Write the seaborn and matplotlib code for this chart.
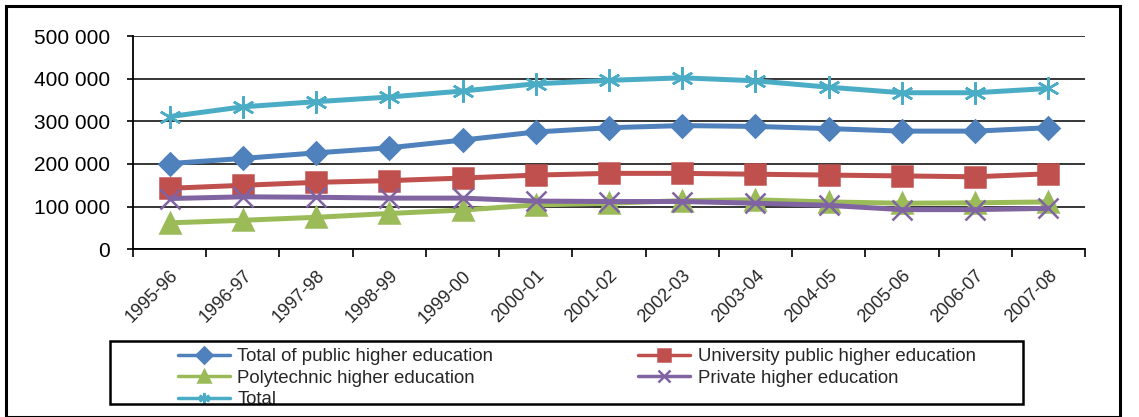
import seaborn as sns
import matplotlib.pyplot as plt
from matplotlib.patches import Rectangle
from matplotlib.ticker import FuncFormatter, FixedLocator

# ---- data ----
years = ["1995-96", "1996-97", "1997-98", "1998-99", "1999-00", "2000-01", "2001-02",
         "2002-03", "2003-04", "2004-05", "2005-06", "2006-07", "2007-08"]
public_total = [201000, 213000, 226000, 238000, 256000, 275000, 285000,
                290000, 288000, 283000, 277000, 277000, 285000]
university = [143000, 150000, 157000, 161000, 167000, 174000, 178000,
              178000, 176000, 174000, 172000, 170000, 177000]
polytechnic = [62000, 68000, 75000, 84000, 92000, 104000, 108000,
               114000, 116000, 111000, 108000, 109000, 111000]
private = [119000, 123000, 122000, 120000, 120000, 113000, 112000,
           112000, 108000, 103000, 93000, 93000, 96000]
total = [311000, 334000, 346000, 357000, 371000, 388000, 396000,
         402000, 395000, 380000, 367000, 367000, 377000]

series = [
    ("Total of public higher education", public_total, "#4F81BD", "D", 11),
    ("University public higher education", university, "#C0504D", "s", 14),
    ("Polytechnic higher education", polytechnic, "#9BBB59", "^", 15),
    ("Private higher education", private, "#8064A2", "x", 14),
    ("Total", total, "#4BACC6", (6, 2, 0), 16),
]

sns.set_style("white")
plt.rcParams["font.family"] = ["Liberation Sans", "DejaVu Sans"]

W, H = 1139, 417
fig = plt.figure(figsize=(W / 100, H / 100), dpi=100)
ax = fig.add_axes([133 / W, 1 - 249.3 / H, (1085 - 133) / W, (249.3 - 36) / H])

handles = {}
for name, vals, col, mk, ms in series:
    sns.lineplot(x=years, y=vals, ax=ax, color=col, linewidth=3.6, marker=mk,
                 markersize=ms, markeredgecolor=col, markeredgewidth=1.8,
                 sort=False, label=name, zorder=3)
    handles[name] = ax.lines[-1]
if ax.get_legend():
    ax.get_legend().remove()

ax.set_ylim(0, 500000)
ax.set_xlim(-0.5, len(years) - 0.5)
ax.set_yticks(range(0, 500001, 100000))
ax.yaxis.set_major_formatter(FuncFormatter(lambda v, p: f"{int(v):,}".replace(",", " ")))
ax.grid(axis="y", color="black", linewidth=1.1)
ax.set_axisbelow(True)
for s in ["top", "right"]:
    ax.spines[s].set_visible(False)
for s in ["left", "bottom"]:
    ax.spines[s].set_color("black")
    ax.spines[s].set_linewidth(1.3)
ax.tick_params(axis="y", left=True, length=4.3, width=1.2, labelsize=15, pad=12, colors="black")
ax.set_xticks(range(len(years)))
ax.set_xticklabels(years, rotation=45, ha="right", rotation_mode="anchor", fontsize=13)
ax.tick_params(axis="x", which="major", length=0, pad=13)
ax.xaxis.set_minor_locator(FixedLocator([i - 0.5 for i in range(len(years) + 1)]))
ax.tick_params(axis="x", which="minor", bottom=True, length=6, width=1.2, color="black")
ax.set_xlabel("")
ax.set_ylabel("")

# legend: Excel fills row-wise, matplotlib column-wise
order = ["Total of public higher education", "Polytechnic higher education", "Total",
         "University public higher education", "Private higher education"]
leg = fig.legend([handles[n] for n in order], order, ncol=2, loc="upper left",
                 bbox_to_anchor=(178 / W, 1 - 348 / H), fontsize=13.4, frameon=False,
                 handlelength=2.8, handletextpad=0.38, labelspacing=0.24,
                 columnspacing=7.8, borderpad=0, borderaxespad=0)
for line in leg.get_lines():
    line.set_linewidth(2.5)
    line.set_markersize(8)

# legend box and outer chart frame
fig.patches.append(Rectangle((110 / W, 1 - 404 / H), (1023 - 110) / W, (404 - 341) / H,
                             transform=fig.transFigure, fill=False, edgecolor="black",
                             linewidth=1.8, zorder=6))
fig.patches.append(Rectangle((6 / W, 0.0), 1114 / W, 1 - 6 / H, transform=fig.transFigure,
                             fill=False, edgecolor="black", linewidth=2.2, zorder=6))

fig.savefig("out.png", dpi=100)
